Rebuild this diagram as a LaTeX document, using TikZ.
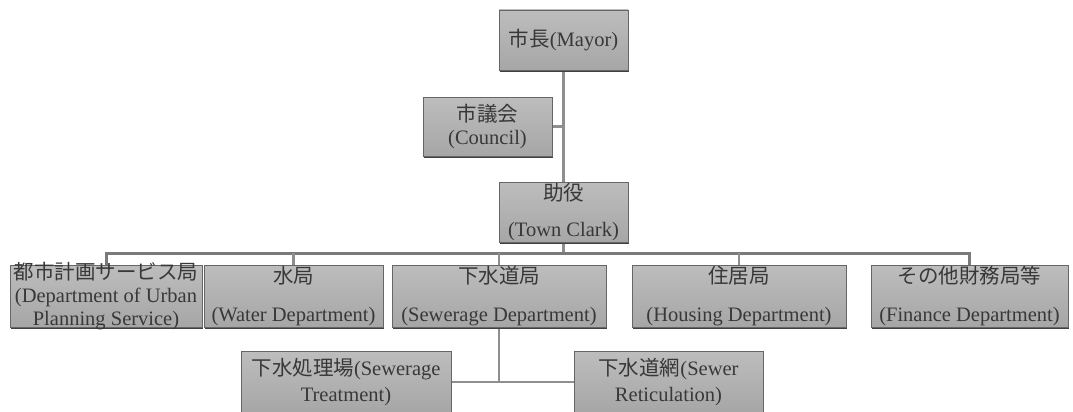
\documentclass[tikz,border=0pt]{standalone}
\usepackage{fontspec}
\setmainfont{Liberation Serif}
\newfontfamily\jpfont{Noto Sans CJK JP}
\newcommand{\jp}[1]{{\jpfont #1}}
\usetikzlibrary{shadows,backgrounds}

\definecolor{boxtop}{HTML}{BDBDBD}
\definecolor{boxbot}{HTML}{A6A6A6}
\definecolor{boxedge}{HTML}{666666}
\definecolor{inkgray}{HTML}{383838}
\definecolor{linkgray}{HTML}{8E8E8E}
\definecolor{bargray}{HTML}{7A7A7A}

\tikzset{
  orgbox/.style={draw=boxedge, line width=0.9pt, top color=boxtop, bottom color=boxbot,
    drop shadow={shadow xshift=0.6pt, shadow yshift=-1.6pt, fill=black!75, opacity=1},
    inner sep=0pt, align=center, text=inkgray, font=\fontsize{20.5}{23}\selectfont},
  orgtext/.style={inner sep=0pt, align=center, text=inkgray, font=\fontsize{20.5}{23}\selectfont},
  link/.style={draw=linkgray, line width=2.4pt},
  barline/.style={draw=bargray, line width=3pt},
}

\begin{document}
\begin{tikzpicture}[x=1pt, y=-1pt]
\useasboundingbox (0,0) rectangle (1073,412);

% executive chain
\node[orgbox, minimum width=129pt, minimum height=60pt] (mayor) at (563.5,40) {\jp{市長}(Mayor)};
\node[orgbox, minimum width=129pt, minimum height=59pt] (council) at (487.5,126.5) {\jp{市議会}\\(Council)};
\node[orgbox, minimum width=129pt, minimum height=60pt] (town) at (563.5,212) {\jp{助役}\\[13pt](Town Clark)};

% departments
\node[orgbox, minimum width=192pt, minimum height=62pt] (urban) at (106,296) {};
\node[orgtext] (urbantext) at (urban.center) {\jp{都市計画サービス局}\\(Department of Urban\\Planning Service)};
\node[orgbox, minimum width=179pt, minimum height=62pt] (water) at (293.5,296) {\jp{水局}\\[15pt](Water Department)};
\node[orgbox, minimum width=214pt, minimum height=62pt] (sewer) at (499,296) {\jp{下水道局}\\[15pt](Sewerage Department)};
\node[orgbox, minimum width=214pt, minimum height=62pt] (housing) at (739,296) {\jp{住居局}\\[15pt](Housing Department)};
\node[orgbox, minimum width=197pt, minimum height=62pt] (finance) at (969.5,296) {\jp{その他財務局等}\\[15pt](Finance Department)};

% sewerage sections
\node[orgbox, minimum width=210pt, minimum height=62pt] (treat) at (346,382) {\jp{下水処理場}(Sewerage\\[3pt]Treatment)};
\node[orgbox, minimum width=189pt, minimum height=62pt] (retic) at (668.5,382) {\jp{下水道網}(Sewer\\[3pt]Reticulation)};

\coordinate (bar) at (0,253);
\coordinate (sub) at (0,382);

\begin{pgfonlayer}{background}
  \draw[link] (mayor.south) -- (town.north);
  \draw[link] (council.east) -- (council.east -| mayor.south);
  \draw[link] (town.south) -- (town.south |- bar);
  \draw[barline] (urban.north) -- (urban.north |- bar) -| (finance.north);
  \foreach \d in {water,sewer,housing}
    \draw[link] (\d.north) -- (\d.north |- bar);
  \draw[link] (sewer.south) -- (sewer.south |- sub);
  \draw[link] (treat.east) -- (retic.west);
\end{pgfonlayer}
\end{tikzpicture}
\end{document}
